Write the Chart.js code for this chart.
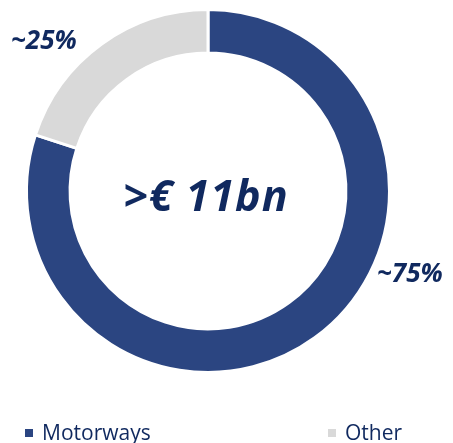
<!DOCTYPE html>
<html>
<head>
<meta charset="utf-8">
<script src="https://cdn.jsdelivr.net/npm/chart.js@4"></script>
<style>
  html, body { margin: 0; padding: 0; background: #fff; }
  #wrap { position: relative; width: 453px; height: 443px; overflow: hidden; }
  #c { position: absolute; left: 0; top: 0; }
  .leg { position: absolute; top: 418px; font-family: "Open Sans", sans-serif; font-size: 21px; color: #10295f; white-space: nowrap; }
  .leg i { display: inline-block; width: 8px; height: 8px; margin-right: 9px; vertical-align: 3px; }
</style>
</head>
<body>
<div id="wrap">
  <canvas id="c" width="453" height="443"></canvas>
  <div id="legend"></div>
</div>
<script>
// Datos
const labels = ['Motorways', 'Other'];
const values = [80, 20];
const shareLabels = ['~75%', '~25%'];
const centerText = '>€ 11bn';
const colors = ['#2b4581', '#d9d9d9'];
const textColor = '#10295f';

// posiciones de las etiquetas de porcentaje (x, y de la línea base)
const shareLabelPos = [[377, 282], [11, 49]];
const legendLeft = [25, 328];

const labelsPlugin = {
    id: 'labelsPlugin',
    afterDraw(chart) {
        const ctx = chart.ctx;
        const meta = chart.getDatasetMeta(0);
        const arc = meta.data[0];
        ctx.save();
        ctx.fillStyle = textColor;
        ctx.textBaseline = 'alphabetic';
        // texto central
        ctx.font = 'italic bold 43px "Open Sans"';
        ctx.letterSpacing = '1px';
        ctx.textAlign = 'center';
        ctx.fillText(centerText, arc.x - 2, 211);
        // etiquetas de porcentaje
        ctx.font = 'italic bold 26px "Open Sans"';
        ctx.letterSpacing = '0px';
        ctx.textAlign = 'left';
        shareLabels.forEach((t, i) => {
            ctx.fillText(t, shareLabelPos[i][0], shareLabelPos[i][1]);
        });
        ctx.restore();
    }
};

new Chart(document.getElementById('c'), {
    type: 'doughnut',
    data: {
        labels: labels,
        datasets: [{
            data: values,
            backgroundColor: colors,
            borderColor: '#ffffff',
            borderWidth: 3
        }]
    },
    options: {
        responsive: false,
        animation: false,
        cutout: '76%',
        layout: { padding: { left: 25, right: 62, top: 8, bottom: 69 } },
        plugins: {
            legend: { display: false },
            tooltip: { enabled: false }
        }
    },
    plugins: [labelsPlugin]
});

// leyenda HTML
const legend = document.getElementById('legend');
labels.forEach((l, i) => {
    const d = document.createElement('div');
    d.className = 'leg';
    d.style.left = legendLeft[i] + 'px';
    d.innerHTML = `<i style="background:${colors[i]}"></i>${l}`;
    legend.appendChild(d);
});
</script>
</body>
</html>
